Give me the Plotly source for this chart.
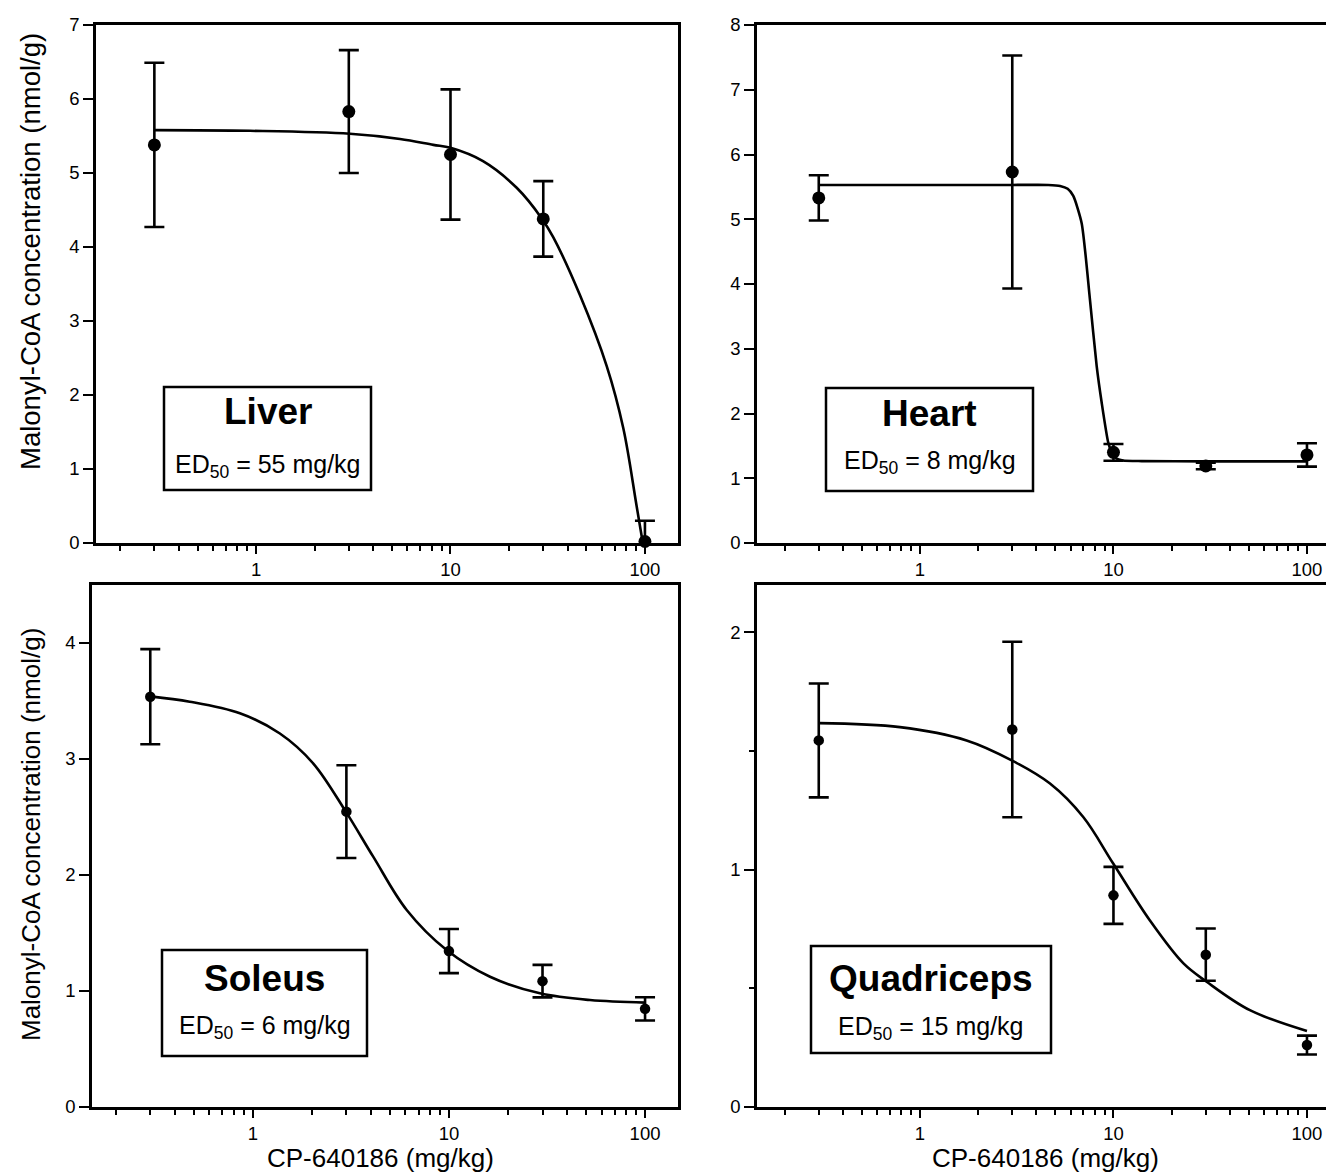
import plotly.graph_objects as go

# ---------------- data ----------------
dose = [0.3, 3, 10, 30, 100]

liver_mean = [5.38, 5.83, 5.25, 4.38, 0.02]
liver_err = [1.11, 0.83, 0.88, 0.51, 0.28]
liver_curve_x = [0.3, 0.93, 3.04, 5.5, 8.16, 10, 14.7, 21.9, 29.4, 33.8, 46.3, 63.6, 77.4, 90.6, 100]
liver_curve_y = [5.58, 5.57, 5.53, 5.46, 5.38, 5.34, 5.16, 4.80, 4.39, 4.13, 3.35, 2.39, 1.55, 0.50, -0.17]

heart_mean = [5.33, 5.73, 1.40, 1.19, 1.36]
heart_err = [0.35, 1.80, 0.13, 0.05, 0.18]
heart_curve_x = [0.3, 1, 3, 4.6, 5.3, 5.8, 6.2, 6.85, 7.56, 8.19, 8.69, 9.4, 9.8, 10.3, 11.2, 14, 30, 100]
heart_curve_y = [5.53, 5.53, 5.53, 5.53, 5.515, 5.47, 5.36, 4.94, 3.76, 2.73, 2.17, 1.55, 1.40, 1.31, 1.275, 1.265, 1.26, 1.26]

soleus_mean = [3.537, 2.546, 1.344, 1.085, 0.846]
soleus_err = [0.41, 0.40, 0.19, 0.14, 0.10]
soleus_curve_x = [0.3, 0.477, 0.859, 1.374, 2.03, 2.98, 4.11, 6.09, 9.73, 16.2, 29.1, 52.4, 100]
soleus_curve_y = [3.54, 3.494, 3.394, 3.22, 2.963, 2.546, 2.158, 1.698, 1.353, 1.123, 0.98, 0.922, 0.90]

quad_mean = [1.545, 1.591, 0.892, 0.642, 0.261]
quad_err = [0.24, 0.37, 0.12, 0.11, 0.04]
quad_curve_x = [0.3, 0.788, 1.742, 2.98, 4.70, 6.98, 9.97, 15.4, 23.0, 30.3, 50.7, 100]
quad_curve_y = [1.618, 1.601, 1.545, 1.461, 1.363, 1.222, 1.026, 0.787, 0.605, 0.528, 0.408, 0.32]

tissues = ["Liver", "Heart", "Soleus", "Quadriceps"]
ed50_labels = ["ED<sub>50</sub> = 55 mg/kg", "ED<sub>50</sub> = 8 mg/kg",
               "ED<sub>50</sub> = 6 mg/kg", "ED<sub>50</sub> = 15 mg/kg"]
y_title = "Malonyl-CoA concentration (nmol/g)"
x_title = "CP-640186 (mg/kg)"

x_major = [1, 10, 100]
x_major_text = ["1", "10", "100"]
x_minor = [0.2, 0.3, 0.4, 0.5, 0.6, 0.7, 0.8, 0.9,
           2, 3, 4, 5, 6, 7, 8, 9,
           20, 30, 40, 50, 60, 70, 80, 90]

# ---------------- layout helpers ----------------
W, H = 1334, 1174
OFF = 8  # page body margin: figure is drawn 8px right/down of the window origin
FONT = "Liberation Sans, Arial, Helvetica, sans-serif"


def px(x):
    return (x - OFF) / W


def py(y):
    return 1 - (y - OFF) / H


fig = go.Figure()

panels = [
    (liver_mean, liver_err, liver_curve_x, liver_curve_y, "x", "y", 13, 1.0),
    (heart_mean, heart_err, heart_curve_x, heart_curve_y, "x2", "y2", 13, 0.6),
    (soleus_mean, soleus_err, soleus_curve_x, soleus_curve_y, "x3", "y3", 10.5, 1.0),
    (quad_mean, quad_err, quad_curve_x, quad_curve_y, "x4", "y4", 10.5, 1.0),
]

for mean, err, cx, cy, xa, ya, ms, sm in panels:
    fig.add_trace(go.Scatter(
        x=cx, y=cy, mode="lines", line=dict(color="black", width=2.6, shape="spline", smoothing=sm),
        xaxis=xa, yaxis=ya, showlegend=False, hoverinfo="skip"))
    fig.add_trace(go.Scatter(
        x=dose, y=mean, mode="markers",
        marker=dict(size=ms, color="black", opacity=0),
        error_y=dict(type="data", array=err, visible=True, color="black", thickness=2.6, width=10),
        xaxis=xa, yaxis=ya, showlegend=False, cliponaxis=True))
    fig.add_trace(go.Scatter(
        x=dose, y=mean, mode="markers",
        marker=dict(size=ms, color="black"),
        xaxis=xa, yaxis=ya, showlegend=False, cliponaxis=False))

# panel geometry in window pixels: (left, right, top, bottom, xrange(log), yrange, ytickvals, yminor, right_border)
geom = [
    (96, 678, 25, 543, [-0.823, 2.17], [0, 7], list(range(0, 8)), None, True),
    (757, 1342, 25, 543, [-0.842, 2.181], [0, 8], list(range(0, 9)), None, False),
    (92, 678, 585, 1107, [-0.82, 2.168], [0, 4.5], list(range(0, 5)), None, True),
    (757, 1342, 585, 1107, [-0.842, 2.181], [0, 2.2], [0, 1, 2], [0.5, 1.5], False),
]

axis_common = dict(showline=True, linecolor="black", linewidth=2.6, showgrid=False, zeroline=False,
                   ticks="outside", tickcolor="black", tickwidth=2.4, automargin=False,
                   tickfont=dict(family=FONT, size=18.5, color="black"))

for i, (l, r, t, b, xr, yr, ytv, ymin, rb) in enumerate(geom):
    sfx = "" if i == 0 else str(i + 1)
    xa = dict(axis_common, type="log", range=xr, domain=[max(0, px(l)), min(1, px(r))],
              anchor="y" + sfx, mirror=True, ticklen=8,
              tickvals=x_major, ticktext=x_major_text,
              minor=dict(tickvals=x_minor, ticks="outside", ticklen=5, tickwidth=2, tickcolor="black"))
    ya = dict(axis_common, range=yr, domain=[py(b), py(t)], anchor="x" + sfx,
              mirror=rb, ticklen=10, tickvals=ytv)
    if ymin:
        ya["minor"] = dict(tickvals=ymin, ticks="outside", ticklen=5, tickwidth=2, tickcolor="black")
    fig.layout["xaxis" + sfx] = xa
    fig.layout["yaxis" + sfx] = ya

# text boxes: (x0, x1, y0, y1, title_y, ed_y)
boxes = [
    (164, 371, 387, 490, 411, 466),
    (826, 1033, 388, 491, 414, 462),
    (162, 367, 950, 1056, 978, 1027),
    (811, 1051, 946, 1053, 978, 1028),
]
shapes = []
annotations = []
for (x0, x1, y0, y1, ty, ey), name, ed in zip(boxes, tissues, ed50_labels):
    shapes.append(dict(type="rect", xref="paper", yref="paper",
                       x0=px(x0), x1=px(x1), y0=py(y1), y1=py(y0),
                       line=dict(color="black", width=2.5), fillcolor="white", layer="above"))
    xc = px((x0 + x1) / 2)
    annotations.append(dict(text="<b>" + name + "</b>", x=xc, y=py(ty), xref="paper", yref="paper",
                            showarrow=False, xanchor="center", yanchor="middle",
                            font=dict(family=FONT, size=37, color="black")))
    annotations.append(dict(text=ed, x=xc, y=py(ey), xref="paper", yref="paper",
                            showarrow=False, xanchor="center", yanchor="middle",
                            font=dict(family=FONT, size=25, color="black")))

# axis titles
for yc, fs in ((252, 27.5), (835, 26)):
    annotations.append(dict(text=y_title, x=px(31), y=py(yc), xref="paper", yref="paper",
                            showarrow=False, textangle=-90, xanchor="center", yanchor="middle",
                            font=dict(family=FONT, size=fs, color="black")))
for xc in (380, 1045):
    annotations.append(dict(text=x_title, x=px(xc), y=py(1158), xref="paper", yref="paper",
                            showarrow=False, xanchor="center", yanchor="middle",
                            font=dict(family=FONT, size=26, color="black")))

fig.update_layout(width=W, height=H, margin=dict(l=0, r=0, t=0, b=0, pad=0, autoexpand=False),
                  paper_bgcolor="white", plot_bgcolor="white",
                  shapes=shapes, annotations=annotations, showlegend=False,
                  font=dict(family=FONT, color="black"))

fig.write_html("out.html")
